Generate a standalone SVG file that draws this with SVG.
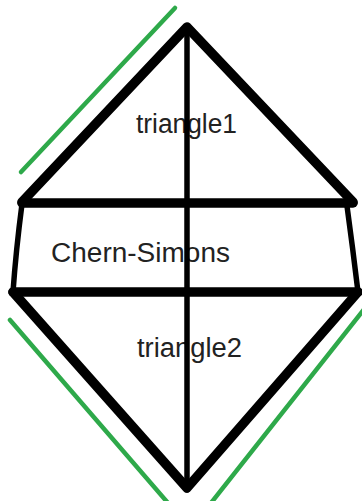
<svg xmlns="http://www.w3.org/2000/svg" width="362" height="501" viewBox="0 0 362 501">
<style>
.edge{stroke:#000;stroke-width:9.5;stroke-linecap:round;stroke-linejoin:round;fill:none}
.thin{stroke:#000;stroke-width:5.5;stroke-linecap:round;fill:none}
.green{stroke:#2ea94a;stroke-width:4.5;stroke-linecap:round;fill:none}
.lbl{font-family:"Liberation Sans",Arial,sans-serif;font-size:27px;fill:#222}
</style>
<rect width="362" height="501" fill="#fff"/>
<g id="triangle1"><text class="lbl" x="136" y="133" textLength="101" lengthAdjust="spacingAndGlyphs">triangle1</text></g>
<g id="chern-simons"><text class="lbl" x="51" y="262" textLength="179" lengthAdjust="spacingAndGlyphs">Chern-Simons</text></g>
<g id="triangle2"><text class="lbl" x="137" y="357" textLength="105" lengthAdjust="spacingAndGlyphs">triangle2</text></g>
<g id="connectors">
<line class="green" x1="21" y1="172" x2="175" y2="8"/>
<line class="green" x1="10" y1="320" x2="168" y2="503"/>
<line class="green" x1="365" y1="308" x2="211" y2="503"/>
<polyline class="edge" points="22,202 187,27 353,202"/>
<line class="edge" x1="22" y1="203" x2="353" y2="203"/>
<line class="edge" x1="13" y1="292" x2="358" y2="292"/>
<polyline class="edge" points="13,292 187,488 358,292"/>
<path class="thin" d="M22,204 Q16,250 13,292"/>
<path class="thin" d="M347,206 Q353,250 358,292"/>
<line class="thin" x1="187" y1="27" x2="187" y2="490"/>
</g>
</svg>
